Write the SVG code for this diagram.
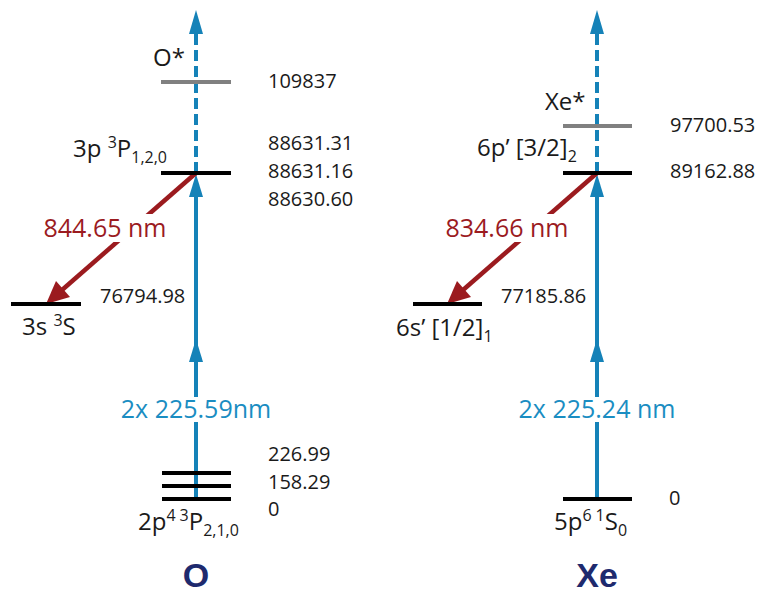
<svg xmlns="http://www.w3.org/2000/svg" width="759" height="593" viewBox="0 0 759 593">
<style>
.lvl{stroke:#000;stroke-width:4;fill:none}
.gray{stroke:#808080;stroke-width:4;fill:none}
.blue{stroke:#1582b8;stroke-width:4;fill:none}
.dash{stroke:#1582b8;stroke-width:4;fill:none;stroke-dasharray:11 5}
.red{stroke:#9b1b1f;stroke-width:4.5;fill:none}
.bh{fill:#1582b8}
.rh{fill:#9b1b1f}
.num{font-family:"Open Sans","DejaVu Sans",sans-serif;font-size:20px;fill:#1a1a1a}
.lab{font-family:"Open Sans","DejaVu Sans",sans-serif;font-size:24px;fill:#1a1a1a}
.sm{font-size:16px}
.rl{font-family:"Open Sans","DejaVu Sans",sans-serif;font-size:25px;fill:#9b1b1f}
.bl{font-family:"Open Sans","DejaVu Sans",sans-serif;font-size:25px;fill:#1a8dc2}
.big{font-family:"Liberation Sans",Arial,sans-serif;font-size:34px;font-weight:bold;fill:#1e2a6e}
</style>
<g id="connectors">
  <line class="dash" x1="196" y1="173" x2="196" y2="33"/>
  <polygon class="bh" points="196,10 189,34 203,34"/>
  <line class="blue" x1="196" y1="499" x2="196" y2="195"/>
  <polygon class="bh" points="196,174 189,197 203,197"/>
  <polygon class="bh" points="196,339 189,362 203,362"/>
  <line class="red" x1="196" y1="173" x2="62" y2="290"/>
  <polygon class="rh" points="46,304 56,281 70,297"/>
  <line class="dash" x1="597" y1="173" x2="597" y2="33"/>
  <polygon class="bh" points="597,10 590,34 604,34"/>
  <line class="blue" x1="597" y1="499" x2="597" y2="195"/>
  <polygon class="bh" points="597,174 590,197 604,197"/>
  <polygon class="bh" points="597,339 590,362 604,362"/>
  <line class="red" x1="597" y1="173" x2="463" y2="290"/>
  <polygon class="rh" points="447,304 457,281 471,297"/>
  <rect x="40" y="214" width="130" height="28" fill="#fff"/>
  <rect x="443" y="214" width="128" height="28" fill="#fff"/>
  <rect x="120" y="397" width="152" height="25" fill="#fff"/>
  <rect x="518" y="397" width="159" height="25" fill="#fff"/>
  <text class="rl" x="105" y="237" text-anchor="middle">844.65 nm</text>
  <text class="rl" x="507" y="237" text-anchor="middle">834.66 nm</text>
  <text class="bl" x="196" y="418" text-anchor="middle">2x 225.59nm</text>
  <text class="bl" x="597" y="418" text-anchor="middle">2x 225.24 nm</text>
</g>
<g id="O-star">
  <line class="gray" x1="161" y1="82" x2="231" y2="82"/>
  <text class="lab" x="153" y="66">O*</text>
  <text class="num" x="268" y="88">109837</text>
</g>
<g id="O-3p">
  <line class="lvl" x1="161" y1="173" x2="231" y2="173"/>
  <text class="lab" x="73" y="157">3p <tspan class="sm" dy="-9">3</tspan><tspan dy="9">P</tspan><tspan class="sm" dy="6">1,2,0</tspan></text>
  <text class="num" x="268" y="150">88631.31</text>
  <text class="num" x="268" y="178">88631.16</text>
  <text class="num" x="268" y="206">88630.60</text>
</g>
<g id="O-3s">
  <line class="lvl" x1="11" y1="304" x2="81" y2="304"/>
  <text class="lab" x="22" y="335">3s <tspan class="sm" dy="-9">3</tspan><tspan dy="9">S</tspan></text>
  <text class="num" x="100" y="303">76794.98</text>
</g>
<g id="O-ground">
  <line class="lvl" x1="162" y1="473" x2="231" y2="473"/>
  <line class="lvl" x1="162" y1="486" x2="231" y2="486"/>
  <line class="lvl" x1="162" y1="499" x2="231" y2="499"/>
  <text class="lab" x="138" y="530">2p<tspan class="sm" dy="-9">4</tspan><tspan class="sm" dx="4">3</tspan><tspan dy="9">P</tspan><tspan class="sm" dy="6">2,1,0</tspan></text>
  <text class="num" x="268" y="461">226.99</text>
  <text class="num" x="268" y="489">158.29</text>
  <text class="num" x="268" y="516">0</text>
</g>
<g id="O-title"><text class="big" x="196" y="587" text-anchor="middle">O</text></g>
<g id="Xe-star">
  <line class="gray" x1="563" y1="126" x2="632" y2="126"/>
  <text class="lab" x="545" y="110">Xe*</text>
  <text class="num" x="670" y="132">97700.53</text>
</g>
<g id="Xe-6p">
  <line class="lvl" x1="563" y1="173" x2="632" y2="173"/>
  <text class="lab" x="477" y="156">6p’ [3/2]<tspan class="sm" dy="6">2</tspan></text>
  <text class="num" x="670" y="178">89162.88</text>
</g>
<g id="Xe-6s">
  <line class="lvl" x1="413" y1="304" x2="482" y2="304"/>
  <text class="lab" x="396" y="336">6s’ [1/2]<tspan class="sm" dy="6">1</tspan></text>
  <text class="num" x="501" y="303">77185.86</text>
</g>
<g id="Xe-ground">
  <line class="lvl" x1="563" y1="499" x2="632" y2="499"/>
  <text class="lab" x="554" y="530">5p<tspan class="sm" dy="-9">6</tspan><tspan class="sm" dx="4">1</tspan><tspan dy="9">S</tspan><tspan class="sm" dy="6">0</tspan></text>
  <text class="num" x="669" y="505">0</text>
</g>
<g id="Xe-title"><text class="big" x="597" y="587" text-anchor="middle">Xe</text></g>
</svg>
